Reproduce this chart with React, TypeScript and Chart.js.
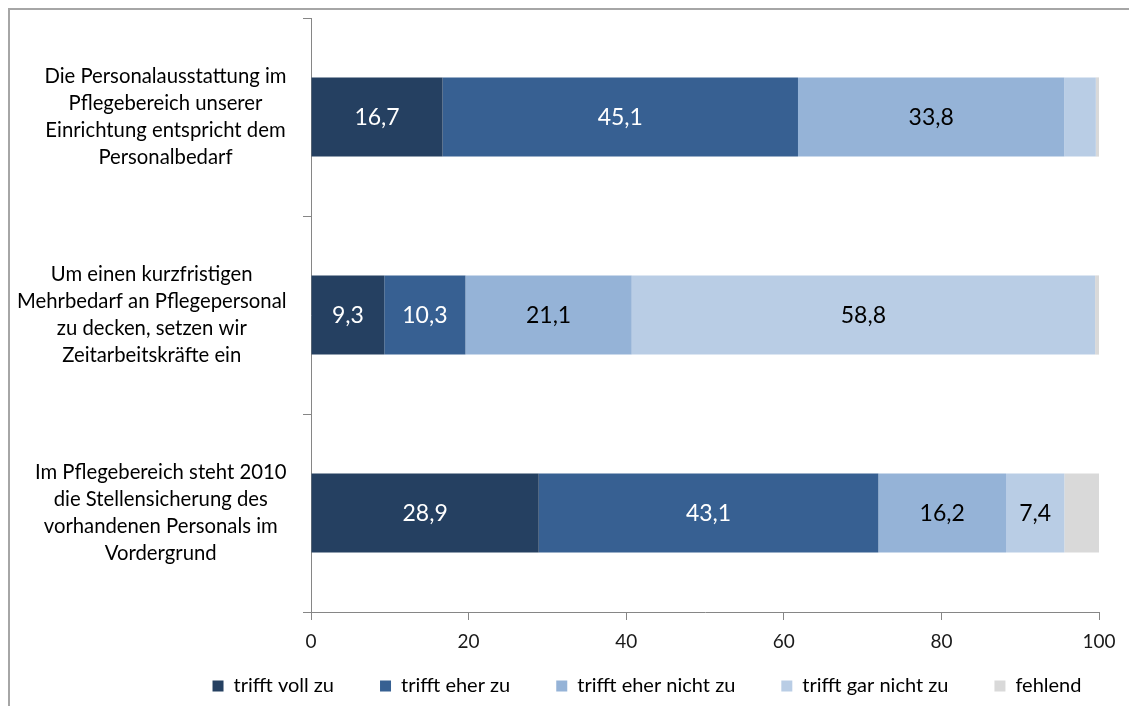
import React, { useEffect, useRef } from "react";
import { Chart, registerables } from "chart.js";

Chart.register(...registerables);

const categories: string[][] = [
  ["Die Personalausstattung im", "Pflegebereich unserer", "Einrichtung entspricht dem", "Personalbedarf"],
  ["Um einen kurzfristigen", "Mehrbedarf an Pflegepersonal", "zu decken, setzen wir", "Zeitarbeitskräfte ein"],
  ["Im Pflegebereich steht 2010", "die Stellensicherung des", "vorhandenen Personals im", "Vordergrund"],
];
const seriesNames = ["trifft voll zu", "trifft eher zu", "trifft eher nicht zu", "trifft gar nicht zu", "fehlend"];
const trifftVollZu = [16.7, 9.3, 28.9];
const trifftEherZu = [45.1, 10.3, 43.1];
const trifftEherNichtZu = [33.8, 21.1, 16.2];
const trifftGarNichtZu = [4.0, 58.8, 7.4];
const fehlend = [0.4, 0.5, 4.4];
const xTicks = [0, 20, 40, 60, 80, 100];

const seriesValues = [trifftVollZu, trifftEherZu, trifftEherNichtZu, trifftGarNichtZu, fehlend];
const seriesColors = ["#254061", "#376092", "#95B3D7", "#B9CDE5", "#D9D9D9"];
const labelColors = ["#ffffff", "#ffffff", "#000000", "#000000", "#000000"];

const FONT = "Lato, Carlito, Calibri, sans-serif";
const W = 1127;
const H = 696;

const categoryLabelPlugin = {
  id: "categoryLabels",
  afterDraw(chart: any) {
    const ctx = chart.ctx;
    const ys = chart.scales.y;
    const area = chart.chartArea;
    const rightEdge = area.left - 24.5;
    const lineH = 26.7;
    ctx.save();
    ctx.font = `20.3px ${FONT}`;
    ctx.fillStyle = "#000000";
    ctx.textAlign = "center";
    ctx.textBaseline = "middle";
    categories.forEach((lines, i) => {
      const cy = ys.getPixelForValue(i);
      const widest = Math.max(...lines.map((l) => ctx.measureText(l).width));
      const cx = rightEdge - widest / 2;
      const top = cy - ((lines.length - 1) * lineH) / 2;
      lines.forEach((l, j) => ctx.fillText(l, cx, top + j * lineH));
    });
    ctx.restore();
  },
};

const valueLabelPlugin = {
  id: "valueLabels",
  afterDatasetsDraw(chart: any) {
    const ctx = chart.ctx;
    ctx.save();
    ctx.font = `23px ${FONT}`;
    ctx.textAlign = "center";
    ctx.textBaseline = "middle";
    chart.data.datasets.forEach((ds: any, d: number) => {
      const meta = chart.getDatasetMeta(d);
      meta.data.forEach((el: any, i: number) => {
        const v = ds.data[i];
        if (v < 5) return;
        const p = el.getProps(["x", "y", "base"], true);
        ctx.fillStyle = labelColors[d];
        ctx.fillText(v.toFixed(1).replace(".", ","), (p.x + p.base) / 2, p.y + 1);
      });
    });
    ctx.restore();
  },
};

// let the x-axis labels draw below its compact layout box, and shift the legend row
const layoutTweakPlugin = {
  id: "layoutTweak",
  afterLayout(chart: any) {
    const xs = chart.scales.x;
    xs.bottom = xs.top + 60;
    const lg = chart.legend;
    if (lg) {
      lg.left += 92.5;
      lg.right += 92.5;
    }
  },
};

export default function App() {
  const ref = useRef<HTMLCanvasElement | null>(null);

  useEffect(() => {
    if (!ref.current) return;
    const chart = new Chart(ref.current, {
      type: "bar",
      data: {
        labels: categories.map((c) => c.join(" ")),
        datasets: seriesNames.map((name, k) => ({
          label: name,
          data: seriesValues[k],
          backgroundColor: seriesColors[k],
          borderWidth: 0,
          barPercentage: 0.4,
          categoryPercentage: 1,
        })),
      },
      options: {
        indexAxis: "y",
        animation: false,
        responsive: false,
        devicePixelRatio: 1,
        layout: { padding: { left: 0, right: 38, top: 8, bottom: 0 } },
        scales: {
          x: {
            stacked: true,
            min: 0,
            max: 100,
            afterBuildTicks: (scale: any) => {
              scale.ticks = xTicks.map((v) => ({ value: v }));
            },
            afterFit: (scale: any) => {
              scale.height = 18;
            },
            grid: { drawOnChartArea: false, drawTicks: true, tickLength: 8, color: "#868686" },
            border: { color: "#868686", width: 1 },
            ticks: {
              padding: 10,
              color: "#1a1a1a",
              font: { family: FONT, size: 19 },
            },
          },
          y: {
            stacked: true,
            afterFit: (scale: any) => {
              scale.width = 301;
            },
            grid: { drawOnChartArea: false, drawTicks: true, tickLength: 8, color: "#868686", offset: true },
            border: { color: "#868686", width: 1 },
            ticks: { display: false },
          },
        },
        plugins: {
          legend: {
            position: "bottom",
            labels: {
              boxWidth: 11,
              boxHeight: 11,
              padding: 46,
              color: "#000000",
              font: { family: FONT, size: 20 },
            },
          },
          tooltip: { enabled: false },
        },
      },
      plugins: [categoryLabelPlugin, valueLabelPlugin, layoutTweakPlugin],
    } as any);
    return () => chart.destroy();
  }, []);

  return (
    <div
      style={{
        width: 1129,
        height: 698,
        boxSizing: "border-box",
        borderTop: "2px solid #a6a6a6",
        borderLeft: "2px solid #a6a6a6",
        overflow: "hidden",
        background: "#ffffff",
      }}
    >
      <canvas ref={ref} width={W} height={H} style={{ display: "block", width: W, height: H }} />
    </div>
  );
}
